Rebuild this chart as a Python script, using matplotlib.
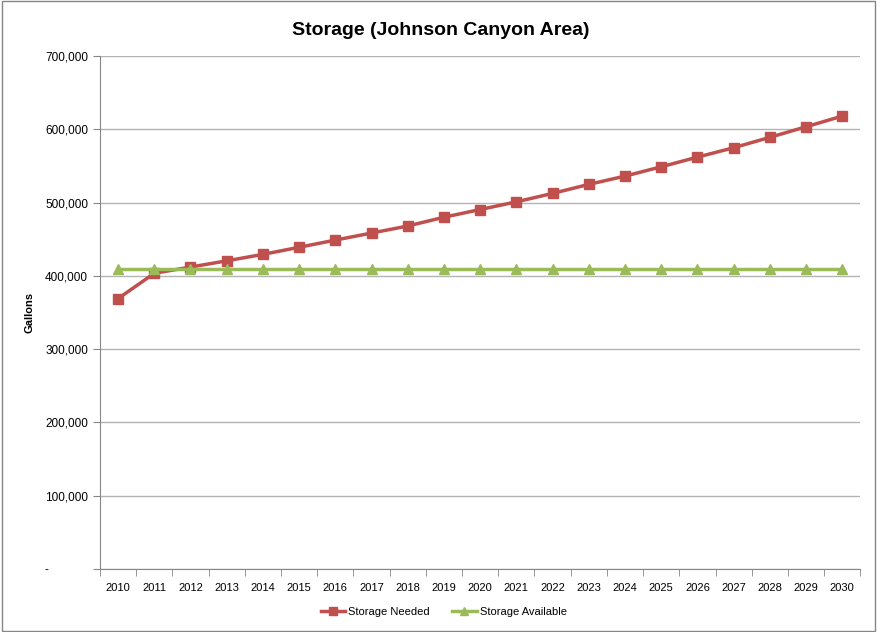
import matplotlib.pyplot as plt
from matplotlib.patches import Rectangle
from matplotlib.ticker import FuncFormatter, FixedLocator

years = [str(y) for y in range(2010, 2031)]
storage_needed = [369000, 403500, 412000, 420500, 429300, 439000, 448800, 458400,
                  468000, 480000, 490500, 501000, 512500, 524800, 536100, 548800,
                  562000, 574800, 589000, 603400, 618000]
storage_available = [410000] * len(years)

plt.rcParams['font.family'] = ['Liberation Sans', 'DejaVu Sans']

fig = plt.figure(figsize=(8.77, 6.32), dpi=100)
ax = fig.add_axes([0.114, 0.0997, 0.867, 0.8117])

x = list(range(len(years)))
ax.plot(x, storage_needed, color='#C0504D', lw=2.5, marker='s', ms=7,
        label='Storage Needed')
ax.plot(x, storage_available, color='#9BBB59', lw=2.5, marker='^', ms=7,
        label='Storage Available')

ax.set_xlim(-0.5, len(years) - 0.5)
ax.set_ylim(0, 700000)
ax.set_yticks(range(0, 700001, 100000))


def fmt(v, pos):
    if v == 0:
        return '-            '
    return '{:,.0f}'.format(v)


ax.yaxis.set_major_formatter(FuncFormatter(fmt))
ax.set_xticks(x)
ax.set_xticklabels(years)
ax.xaxis.set_minor_locator(FixedLocator([i - 0.5 for i in range(len(years) + 1)]))
ax.tick_params(axis='x', which='major', length=0, pad=10, labelsize=8)
ax.tick_params(axis='x', which='minor', length=5, color='#868686')
ax.tick_params(axis='y', length=5, color='#868686', labelsize=8.5)

ax.grid(axis='y', color='#B3B3B3', lw=1)
ax.set_axisbelow(True)
for s in ['top', 'right']:
    ax.spines[s].set_visible(False)
ax.spines['left'].set_color('#868686')
ax.spines['bottom'].set_color('#868686')

ax.set_ylabel('Gallons', fontsize=8, fontweight='bold', labelpad=8)
fig.suptitle('Storage (Johnson Canyon Area)', x=0.502, y=0.965, fontsize=14,
             fontweight='bold')

fig.legend(loc='center', bbox_to_anchor=(0.506, 0.032), ncol=2, frameon=False,
           fontsize=8, handlelength=2.2, columnspacing=2, markerscale=0.8,
           handletextpad=0.3)

fig.patches.append(Rectangle((0.002, 0.002), 0.996, 0.996, transform=fig.transFigure,
                             fill=False, edgecolor='#868686', lw=1))

fig.savefig('out.png', dpi=100)
